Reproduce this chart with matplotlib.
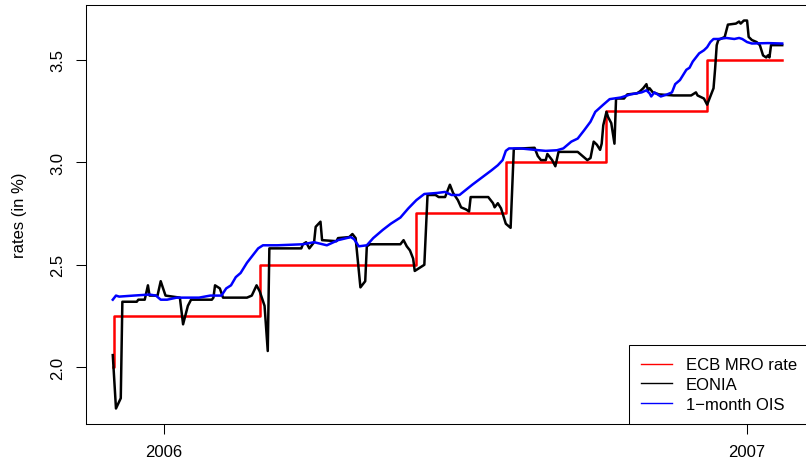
import matplotlib
matplotlib.use("Agg")
import matplotlib.pyplot as plt
from matplotlib.lines import Line2D
import pandas as pd

# ---------------- data ----------------
mro_dates = ["2005-11-30", "2005-12-01", "2006-03-02", "2006-06-08",
             "2006-08-03", "2006-10-05", "2006-12-07", "2007-01-23"]
mro_values = [2.00, 2.25, 2.50, 2.75, 3.00, 3.25, 3.50, 3.50]

eonia_dates = [
    "2005-11-30", "2005-12-02", "2005-12-05", "2005-12-06", "2005-12-15", "2005-12-16",
    "2005-12-20", "2005-12-22", "2005-12-23", "2005-12-28", "2005-12-30", "2006-01-02",
    "2006-01-11", "2006-01-13", "2006-01-15", "2006-01-16", "2006-01-18", "2006-01-31",
    "2006-02-01", "2006-02-02", "2006-02-05", "2006-02-07", "2006-02-22", "2006-02-25",
    "2006-02-28", "2006-03-02", "2006-03-05", "2006-03-07", "2006-03-08", "2006-03-28",
    "2006-03-29", "2006-03-31", "2006-04-02", "2006-04-05", "2006-04-06", "2006-04-09",
    "2006-04-10", "2006-04-19", "2006-04-20", "2006-04-27", "2006-04-29", "2006-05-01",
    "2006-05-04", "2006-05-07", "2006-05-08", "2006-05-10", "2006-05-29", "2006-05-31",
    "2006-06-02", "2006-06-04", "2006-06-06", "2006-06-07", "2006-06-08", "2006-06-13",
    "2006-06-15", "2006-06-20", "2006-06-22", "2006-06-26", "2006-06-27", "2006-06-29",
    "2006-07-01", "2006-07-04", "2006-07-06", "2006-07-09", "2006-07-11", "2006-07-12",
    "2006-07-23", "2006-07-26", "2006-07-27", "2006-07-29", "2006-07-31", "2006-08-01",
    "2006-08-03", "2006-08-06", "2006-08-08", "2006-08-21", "2006-08-23", "2006-08-25",
    "2006-08-28", "2006-08-29", "2006-09-01", "2006-09-03", "2006-09-05", "2006-09-17",
    "2006-09-20", "2006-09-23", "2006-09-25", "2006-09-27", "2006-09-29", "2006-10-01",
    "2006-10-02", "2006-10-03", "2006-10-05", "2006-10-06", "2006-10-08", "2006-10-10",
    "2006-10-11", "2006-10-16", "2006-10-18", "2006-10-24", "2006-10-26", "2006-10-28",
    "2006-10-30", "2006-10-31", "2006-11-01", "2006-11-03", "2006-11-07", "2006-11-16",
    "2006-11-27", "2006-11-30", "2006-12-01", "2006-12-05", "2006-12-07", "2006-12-11",
    "2006-12-12", "2006-12-13", "2006-12-14", "2006-12-18", "2006-12-20", "2006-12-25",
    "2006-12-27", "2006-12-28", "2006-12-30", "2007-01-01", "2007-01-02", "2007-01-04",
    "2007-01-07", "2007-01-09", "2007-01-11", "2007-01-13", "2007-01-14", "2007-01-15",
    "2007-01-16", "2007-01-23"]
eonia_values = [
    2.06, 1.80, 1.85, 2.32, 2.32, 2.33,
    2.33, 2.40, 2.35, 2.35, 2.42, 2.35,
    2.34, 2.21, 2.27, 2.30, 2.33, 2.33,
    2.34, 2.40, 2.385, 2.34, 2.34, 2.35,
    2.40, 2.37, 2.30, 2.08, 2.58, 2.58,
    2.60, 2.61, 2.58, 2.61, 2.685, 2.71,
    2.62, 2.615, 2.63, 2.635, 2.65, 2.63,
    2.39, 2.42, 2.59, 2.60, 2.60, 2.62,
    2.59, 2.57, 2.53, 2.47, 2.475, 2.50,
    2.84, 2.84, 2.83, 2.83, 2.85, 2.89,
    2.85, 2.815, 2.78, 2.77, 2.76, 2.83,
    2.83, 2.80, 2.78, 2.80, 2.775, 2.75,
    2.70, 2.68, 3.065, 3.07, 3.03, 3.01,
    3.01, 3.04, 3.01, 2.98, 3.05, 3.05,
    3.03, 3.01, 3.02, 3.10, 3.085, 3.06,
    3.09, 3.18, 3.245, 3.22, 3.19, 3.09,
    3.31, 3.31, 3.33, 3.335, 3.345, 3.36,
    3.38, 3.35, 3.36, 3.34, 3.33, 3.325,
    3.325, 3.34, 3.325, 3.31, 3.28, 3.36,
    3.455, 3.57, 3.595, 3.61, 3.67, 3.675,
    3.685, 3.675, 3.69, 3.69, 3.61, 3.595,
    3.585, 3.57, 3.52, 3.51, 3.52, 3.51,
    3.57, 3.57]

ois_dates = [
    "2005-11-30", "2005-12-02", "2005-12-04", "2005-12-13", "2005-12-23", "2005-12-27",
    "2005-12-30", "2006-01-03", "2006-01-09", "2006-01-23", "2006-01-30", "2006-02-06",
    "2006-02-09", "2006-02-12", "2006-02-15", "2006-02-18", "2006-02-22", "2006-02-25",
    "2006-03-01", "2006-03-04", "2006-03-13", "2006-03-29", "2006-04-05", "2006-04-13",
    "2006-04-20", "2006-04-28", "2006-04-30", "2006-05-03", "2006-05-08", "2006-05-12",
    "2006-05-18", "2006-05-23", "2006-05-29", "2006-06-03", "2006-06-08", "2006-06-13",
    "2006-06-21", "2006-06-26", "2006-06-30", "2006-07-05", "2006-07-09", "2006-07-13",
    "2006-07-19", "2006-07-25", "2006-07-29", "2006-08-01", "2006-08-03", "2006-08-05",
    "2006-08-12", "2006-08-21", "2006-08-28", "2006-09-04", "2006-09-08", "2006-09-13",
    "2006-09-17", "2006-09-21", "2006-09-25", "2006-09-28", "2006-10-03", "2006-10-07",
    "2006-10-14", "2006-10-20", "2006-10-27", "2006-10-30", "2006-11-01", "2006-11-02",
    "2006-11-04", "2006-11-06", "2006-11-08", "2006-11-12", "2006-11-15", "2006-11-17",
    "2006-11-20", "2006-11-22", "2006-11-24", "2006-11-26", "2006-11-28", "2006-11-30",
    "2006-12-02", "2006-12-05", "2006-12-07", "2006-12-09", "2006-12-11", "2006-12-14",
    "2006-12-19", "2006-12-24", "2006-12-27", "2006-12-29", "2007-01-01", "2007-01-04",
    "2007-01-14", "2007-01-23"]
ois_values = [
    2.33, 2.35, 2.345, 2.35, 2.355, 2.35,
    2.33, 2.33, 2.34, 2.34, 2.35, 2.35,
    2.385, 2.40, 2.44, 2.46, 2.51, 2.54,
    2.58, 2.595, 2.595, 2.60, 2.61, 2.595,
    2.62, 2.635, 2.625, 2.59, 2.595, 2.63,
    2.67, 2.70, 2.73, 2.775, 2.815, 2.845,
    2.85, 2.855, 2.84, 2.84, 2.865, 2.89,
    2.925, 2.96, 2.985, 3.01, 3.055, 3.067,
    3.067, 3.06, 3.055, 3.058, 3.067, 3.10,
    3.115, 3.155, 3.197, 3.245, 3.28, 3.307,
    3.315, 3.33, 3.34, 3.35, 3.335, 3.32,
    3.34, 3.33, 3.32, 3.33, 3.34, 3.38,
    3.40, 3.425, 3.45, 3.46, 3.49, 3.51,
    3.53, 3.545, 3.56, 3.585, 3.60, 3.60,
    3.605, 3.60, 3.605, 3.60, 3.585, 3.578,
    3.58, 3.578]

x_tick_dates = ["2006-01-01", "2007-01-01"]
x_tick_labels = ["2006", "2007"]
y_ticks = [2.0, 2.5, 3.0, 3.5]
y_tick_labels = ["2.0", "2.5", "3.0", "3.5"]
series_labels = ["ECB MRO rate", "EONIA", "1\u2212month OIS"]
series_colors = ["#FF0000", "#000000", "#0000FF"]

# ---------------- figure ----------------
plt.rcParams["font.family"] = ["Liberation Sans", "DejaVu Sans"]
W, H = 806, 464
fig = plt.figure(figsize=(W / 100, H / 100), dpi=100)
L, R, T, B = 86, 809, 6, 425
ax = fig.add_axes([L / W, 1 - B / H, (R - L) / W, (B - T) / H])

LW = 1.8
ax.plot(pd.to_datetime(mro_dates), mro_values, color=series_colors[0], lw=LW,
        drawstyle="steps-post")
ax.plot(pd.to_datetime(eonia_dates), eonia_values, color=series_colors[1], lw=LW)
ax.plot(pd.to_datetime(ois_dates), ois_values, color=series_colors[2], lw=LW)
ax.margins(x=0.04, y=0.04)

ax.set_xticks(pd.to_datetime(x_tick_dates))
ax.set_xticklabels(x_tick_labels)
ax.set_yticks(y_ticks)
ax.set_yticklabels(y_tick_labels, rotation=90, va="center")
ax.tick_params(axis="both", direction="out", length=7.2, width=0.75,
               labelsize=12, pad=7.5, colors="black")
for s in ax.spines.values():
    s.set_linewidth(0.75)

fig.text(20 / W, 1 - ((T + B) / 2) / H, "rates (in %)", rotation=90,
         ha="center", va="center", fontsize=12)

handles = [Line2D([], [], color=c, lw=1.0) for c in series_colors]
leg = ax.legend(handles, series_labels, loc="lower right", fontsize=12,
                frameon=True, fancybox=False, edgecolor="black", framealpha=1,
                borderaxespad=0, handlelength=1.86, handletextpad=0.8,
                borderpad=0.74, labelspacing=0.28)
leg.get_frame().set_linewidth(0.75)

fig.savefig("out.png", dpi=100)
